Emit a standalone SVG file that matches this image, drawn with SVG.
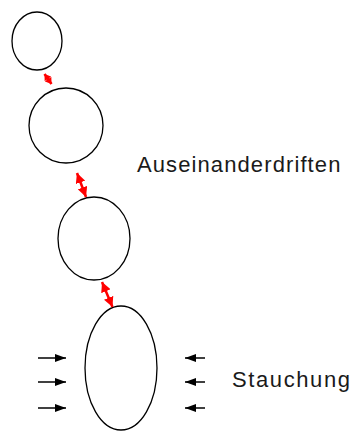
<svg xmlns="http://www.w3.org/2000/svg" width="352" height="431" viewBox="0 0 352 431">
<defs>
<style>
.c{fill:none;stroke:#000;stroke-width:1.3}
.r{stroke:#f00;stroke-width:2.5;fill:none}
.b{stroke:#000;stroke-width:1.5;fill:none}
.t{font-family:"Liberation Sans",Arial,sans-serif;font-size:22px;fill:#1a1a1a}
</style>
<marker id="rh" markerUnits="userSpaceOnUse" markerWidth="10" markerHeight="10" refX="10" refY="5" orient="auto-start-reverse" viewBox="0 0 10 10"><path d="M0,0 L10,5 L0,10 z" fill="#f00"/></marker>
<marker id="rs" markerUnits="userSpaceOnUse" markerWidth="6" markerHeight="8" refX="6" refY="4" orient="auto-start-reverse" viewBox="0 0 6 8"><path d="M0,0 L6,4 L0,8 z" fill="#f00"/></marker>
<marker id="bh" markerUnits="userSpaceOnUse" markerWidth="11" markerHeight="8" refX="11" refY="4" orient="auto" viewBox="0 0 11 8"><path d="M0,0 L11,4 L0,8 z" fill="#000"/></marker>
</defs>
<rect width="352" height="431" fill="#fff"/>
<g id="circle1"><ellipse class="c" cx="37" cy="41" rx="25" ry="29"/></g>
<g id="circle2"><ellipse class="c" cx="66" cy="125.5" rx="37" ry="37.5"/></g>
<g id="circle3"><ellipse class="c" cx="94" cy="238.5" rx="36" ry="41.5"/></g>
<g id="ellipse4"><ellipse class="c" cx="121" cy="368" rx="36" ry="62"/></g>
<g id="label-auseinander"><text class="t" x="137" y="172" letter-spacing="1.1">Auseinanderdriften</text></g>
<g id="label-stauchung"><text class="t" x="232" y="387" letter-spacing="1.6">Stauchung</text></g>
<g id="connectors">
<line class="r" x1="44.5" y1="74" x2="51.5" y2="84" marker-start="url(#rs)" marker-end="url(#rs)"/>
<line class="r" x1="77" y1="173" x2="86" y2="197" marker-start="url(#rh)" marker-end="url(#rh)"/>
<line class="r" x1="102" y1="282" x2="112.5" y2="307" marker-start="url(#rh)" marker-end="url(#rh)"/>
<line class="b" x1="38" y1="358" x2="66" y2="358" marker-end="url(#bh)"/>
<line class="b" x1="38" y1="382" x2="66" y2="382" marker-end="url(#bh)"/>
<line class="b" x1="38" y1="408" x2="66" y2="408" marker-end="url(#bh)"/>
<line class="b" x1="205" y1="358" x2="185" y2="358" marker-end="url(#bh)"/>
<line class="b" x1="205" y1="382" x2="185" y2="382" marker-end="url(#bh)"/>
<line class="b" x1="205" y1="408" x2="185" y2="408" marker-end="url(#bh)"/>
</g>
</svg>
